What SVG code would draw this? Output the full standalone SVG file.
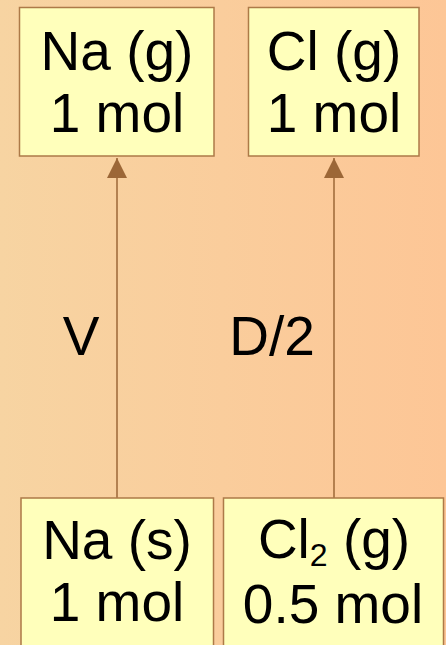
<svg xmlns="http://www.w3.org/2000/svg" width="446" height="645" viewBox="0 0 446 645">
<defs>
<linearGradient id="bg" x1="0" y1="0" x2="1" y2="0">
<stop offset="0" stop-color="#f7d4a2"/>
<stop offset="1" stop-color="#fdc696"/>
</linearGradient>
<marker id="ah" markerWidth="20" markerHeight="20" viewBox="0 0 20 20" refX="20" refY="10" orient="auto" markerUnits="userSpaceOnUse">
<path d="M0,0 L20,10 L0,20 Z" fill="#9c6737"/>
</marker>
<style>
.box{fill:#ffffbb;stroke:#ad7a48;stroke-width:1.5}
.t{font-family:"Liberation Sans",Arial,sans-serif;font-size:55px;fill:#000;text-anchor:middle}
.c{stroke:#9c6737;stroke-width:1.5;fill:none}
</style>
</defs>
<rect width="446" height="645" fill="url(#bg)"/>
<g id="connectors">
<line class="c" x1="117" y1="498" x2="117" y2="158" marker-end="url(#ah)"/>
<line class="c" x1="334" y1="498" x2="334" y2="158" marker-end="url(#ah)"/>
<text class="t" x="81" y="355">V</text>
<text class="t" x="272" y="355">D/2</text>
</g>
<g id="na_g">
<rect class="box" x="19.5" y="7.5" width="194.5" height="148.5"/>
<text class="t" x="117" y="70">Na (g)</text>
<text class="t" x="117" y="132">1 mol</text>
</g>
<g id="cl_g">
<rect class="box" x="248.5" y="7.5" width="170.5" height="148.5"/>
<text class="t" x="334" y="70">Cl (g)</text>
<text class="t" x="334" y="132">1 mol</text>
</g>
<g id="na_s">
<rect class="box" x="21" y="498" width="192.5" height="160"/>
<text class="t" x="117" y="559">Na (s)</text>
<text class="t" x="117" y="621">1 mol</text>
</g>
<g id="cl2_g">
<rect class="box" x="223.5" y="498" width="220" height="160"/>
<text class="t" x="334" y="558">Cl<tspan font-size="32" dy="8">2</tspan><tspan dy="-8"> (g)</tspan></text>
<text class="t" x="333" y="623">0.5 mol</text>
</g>
</svg>
